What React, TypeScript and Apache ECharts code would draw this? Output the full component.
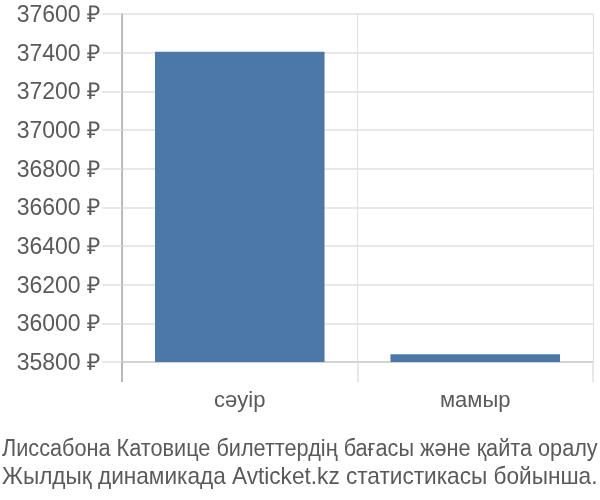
import React, { useEffect, useRef } from "react";
import * as echarts from "echarts";

const categories = ["сәуір", "мамыр"];
const prices = [37405, 35840];
const yMin = 35800;
const yMax = 37600;
const yStep = 200;
const titleLines = [
  "Лиссабона Катовице билеттердің бағасы және қайта оралу",
  "Жылдық динамикада Avticket.kz статистикасы бойынша.",
];

const FONT = "'Liberation Sans', Arial, sans-serif";
const TITLE_SIZE = 23;

function measure(text: string, size: number): number {
  const c = document.createElement("canvas").getContext("2d");
  if (!c) return 1;
  c.font = `${size}px 'Liberation Sans', Arial, sans-serif`;
  return c.measureText(text).width;
}

export default function App() {
  const ref = useRef<HTMLDivElement>(null);
  useEffect(() => {
    if (!ref.current) return;
    const chart = echarts.init(ref.current, null, { renderer: "svg" });
    chart.setOption({
      animation: false,
      grid: { left: 122, right: 7, top: 14, bottom: 138 },
      xAxis: {
        type: "category",
        data: categories,
        boundaryGap: true,
        axisLine: { show: true, lineStyle: { color: "#cccccc", width: 1.5 } },
        axisTick: { show: true, length: 20, alignWithLabel: false, lineStyle: { color: "#e0e0e0", width: 1.5 } },
        splitLine: { show: true, lineStyle: { color: "#e0e0e0", width: 1 } },
        axisLabel: {
          margin: 26,
          fontSize: 22,
          color: "#5a5a5a",
          fontFamily: FONT,
        },
      },
      yAxis: {
        type: "value",
        min: yMin,
        max: yMax,
        interval: yStep,
        axisLine: { show: true, lineStyle: { color: "#aaaaaa", width: 1.5 } },
        axisTick: { show: true, length: 20, lineStyle: { color: "#e0e0e0", width: 1.5 } },
        splitLine: { show: true, lineStyle: { color: "#e0e0e0", width: 1.5 } },
        axisLabel: {
          margin: 22,
          fontSize: 23,
          color: "#5a5a5a",
          fontFamily: FONT,
          formatter: (v: number) => `${v} ₽`,
        },
      },
      graphic: [
        {
          type: "line",
          shape: { x1: 122, y1: 362, x2: 122, y2: 382 },
          style: { stroke: "#aaaaaa", lineWidth: 1.5 },
          z: 10,
        },
        ...titleLines.map((t, i) => ({
          type: "text",
          x: 2,
          y: 448 + i * 28,
          scaleX: 596 / measure(t, TITLE_SIZE),
          style: {
            text: t,
            fontFamily: FONT,
            fontSize: TITLE_SIZE,
            fill: "#5a5a5a",
            verticalAlign: "middle",
            align: "left",
          },
        })),
      ],
      series: [
        {
          type: "bar",
          data: prices,
          barWidth: "72%",
          itemStyle: { color: "#4c78a8" },
        },
      ],
    });
    return () => chart.dispose();
  }, []);
  return (
    <div
      ref={ref}
      style={{ position: "fixed", left: 0, top: 0, width: 600, height: 500 }}
    />
  );
}
